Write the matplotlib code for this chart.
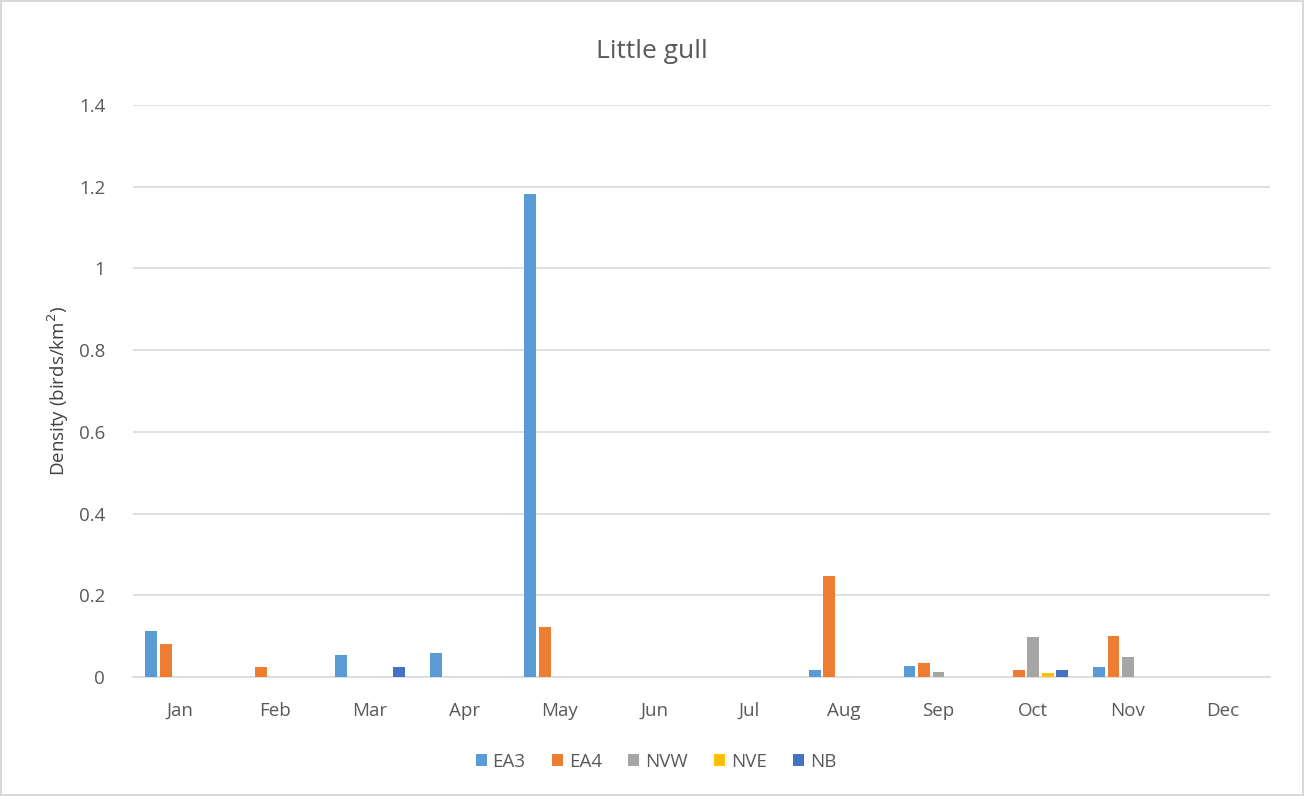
import matplotlib.pyplot as plt
import numpy as np

months = ['Jan', 'Feb', 'Mar', 'Apr', 'May', 'Jun', 'Jul', 'Aug', 'Sep', 'Oct', 'Nov', 'Dec']
series = ['EA3', 'EA4', 'NVW', 'NVE', 'NB']
colors = ['#5B9BD5', '#ED7D31', '#A5A5A5', '#FFC000', '#4472C4']

ea3 = [0.113, 0, 0.053, 0.059, 1.182, 0, 0, 0.017, 0.027, 0, 0.024, 0]
ea4 = [0.081, 0.024, 0, 0, 0.122, 0, 0, 0.247, 0.034, 0.017, 0.100, 0]
nvw = [0, 0, 0, 0, 0, 0, 0, 0, 0.012, 0.099, 0.049, 0]
nve = [0, 0, 0, 0, 0, 0, 0, 0, 0, 0.011, 0, 0]
nb = [0, 0, 0.024, 0, 0, 0, 0, 0, 0, 0.018, 0, 0]
values = [ea3, ea4, nvw, nve, nb]

yticks = [0, 0.2, 0.4, 0.6, 0.8, 1.0, 1.2, 1.4]
ytick_labels = ['0', '0.2', '0.4', '0.6', '0.8', '1', '1.2', '1.4']

plt.rcParams['font.family'] = ['Open Sans', 'DejaVu Sans']
text_col = '#595959'

fig = plt.figure(figsize=(13.04, 7.96), dpi=100)
fig.patch.set_edgecolor('#D9D9D9')
fig.patch.set_linewidth(1.5)
ax = fig.add_axes([0.102, 0.1495, 0.872, 0.7185])

x = np.arange(len(months))
pitch = 0.153
width = 0.125
for i, (name, vals) in enumerate(zip(series, values)):
    ax.bar(x + (i - 2) * pitch, vals, width, color=colors[i], label=name, zorder=3)

ax.set_xlim(-0.5, len(months) - 0.5)
ax.set_ylim(0, 1.4)
ax.set_xticks(x)
ax.set_xticklabels(months, fontsize=13.5, color=text_col)
ax.set_yticks(yticks)
ax.set_yticklabels(ytick_labels, fontsize=13.5, color=text_col)
ax.tick_params(axis='x', length=0, pad=18)
ax.tick_params(axis='y', length=0, pad=20)
ax.grid(axis='y', color='#D9D9D9', linewidth=1.2, zorder=0)
for s in ['top', 'right', 'left']:
    ax.spines[s].set_visible(False)
ax.spines['bottom'].set_color('#D9D9D9')
ax.spines['bottom'].set_linewidth(1.2)

ax.set_ylabel('Density (birds/km$^2$)', fontsize=13.5, color='#404040', labelpad=6)
fig.text(0.5, 0.935, 'Little gull', ha='center', va='center', fontsize=19, color=text_col)

fig.legend(loc='center', bbox_to_anchor=(0.503, 0.043), ncol=5, frameon=False,
           fontsize=13.5, handlelength=0.6, handleheight=0.6, handletextpad=0.3,
           columnspacing=1.4, labelcolor=text_col)

plt.savefig('out.png', dpi=100)
